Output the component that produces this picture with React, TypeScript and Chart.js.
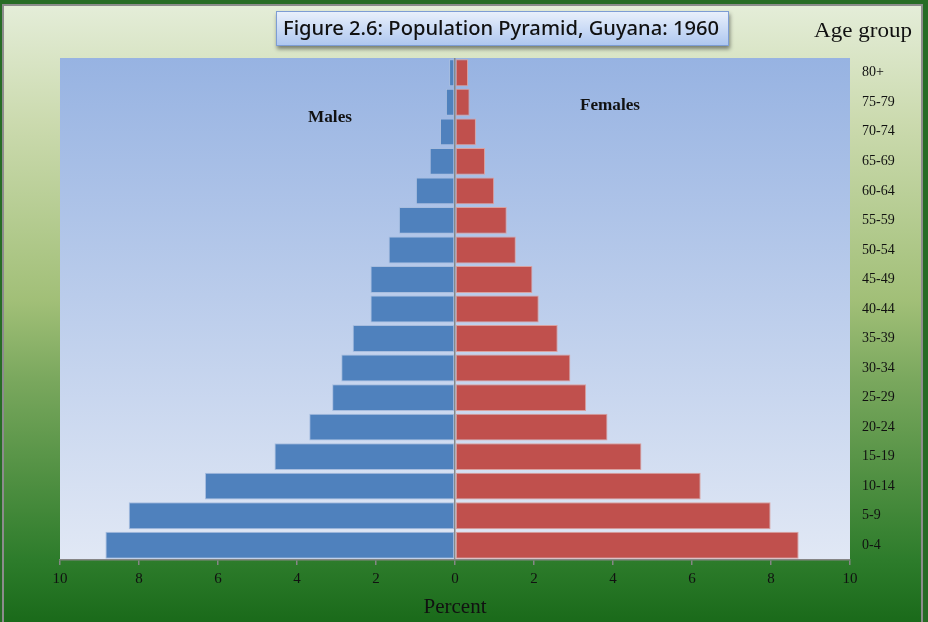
import React, { useEffect, useRef } from 'react';
import { Chart, registerables } from 'chart.js';

Chart.register(...registerables);

const ageGroups = ['0-4', '5-9', '10-14', '15-19', '20-24', '25-29', '30-34', '35-39', '40-44', '45-49', '50-54', '55-59', '60-64', '65-69', '70-74', '75-79', '80+'];
const malesPct = [8.85, 8.26, 6.33, 4.57, 3.69, 3.11, 2.88, 2.59, 2.14, 2.14, 1.68, 1.42, 0.99, 0.64, 0.38, 0.23, 0.15];
const femalesPct = [8.7, 7.99, 6.22, 4.72, 3.86, 3.32, 2.92, 2.6, 2.12, 1.96, 1.54, 1.31, 0.99, 0.76, 0.53, 0.37, 0.33];
const titleText = 'Figure 2.6: Population Pyramid, Guyana: 1960';
const xAxisTitle = 'Percent';
const yAxisTitle = 'Age group';
const maleLabel = 'Males';
const femaleLabel = 'Females';

function drawScaledText(ctx: CanvasRenderingContext2D, text: string, cx: number, cy: number, font: string, targetW: number, color: string) {
  ctx.save();
  ctx.font = font;
  ctx.fillStyle = color;
  ctx.textAlign = 'center';
  ctx.textBaseline = 'middle';
  const w = ctx.measureText(text).width;
  const sx = targetW / w;
  ctx.translate(cx, cy);
  ctx.scale(sx, 1);
  ctx.fillText(text, 0, 0);
  ctx.restore();
}

const backgroundPlugin = {
  id: 'bgPlugin',
  beforeDraw(chart: any) {
    const { ctx, chartArea: ca, width, height } = chart;
    ctx.save();
    ctx.fillStyle = '#276c25';
    ctx.fillRect(0, 0, width, height);
    const g = ctx.createLinearGradient(0, 6, 0, height);
    g.addColorStop(0, '#e4edd8');
    g.addColorStop(0.19, '#cbdaae');
    g.addColorStop(0.48, '#a1bf77');
    g.addColorStop(0.61, '#79a75d');
    g.addColorStop(0.9, '#2d7c2b');
    g.addColorStop(1, '#1a6a1a');
    ctx.fillStyle = g;
    ctx.fillRect(4, 6, 918, height - 6);
    ctx.strokeStyle = '#8c8c8c';
    ctx.lineWidth = 2;
    ctx.beginPath();
    ctx.moveTo(3, height);
    ctx.lineTo(3, 5);
    ctx.lineTo(922, 5);
    ctx.lineTo(922, height);
    ctx.stroke();
    const pg = ctx.createLinearGradient(0, ca.top, 0, ca.bottom);
    pg.addColorStop(0, '#97b3e2');
    pg.addColorStop(1, '#e1e8f5');
    ctx.fillStyle = pg;
    ctx.fillRect(ca.left, ca.top, ca.right - ca.left, ca.bottom - ca.top);
    ctx.restore();
  },
  afterDraw(chart: any) {
    const { ctx } = chart;
    ctx.save();
    const bx = 276, by = 11, bw = 453, bh = 35;
    ctx.shadowColor = 'rgba(0,0,0,0.45)';
    ctx.shadowBlur = 4;
    ctx.shadowOffsetX = 1;
    ctx.shadowOffsetY = 3;
    const tg = ctx.createLinearGradient(0, by, 0, by + bh);
    tg.addColorStop(0, '#eaf1fc');
    tg.addColorStop(1, '#adc6ef');
    ctx.fillStyle = tg;
    ctx.fillRect(bx, by, bw, bh);
    ctx.shadowColor = 'transparent';
    ctx.strokeStyle = '#7d9dd4';
    ctx.lineWidth = 1;
    ctx.strokeRect(bx + 0.5, by + 0.5, bw - 1, bh - 1);
    ctx.restore();
    drawScaledText(ctx, titleText, 501, 29, '500 20px "Noto Sans", sans-serif', 436, '#111');
    drawScaledText(ctx, yAxisTitle, 863, 32, '20px "Liberation Serif", serif', 98, '#111');
    drawScaledText(ctx, maleLabel, 330, 118, 'bold 16px "Liberation Serif", serif', 44, '#111');
    drawScaledText(ctx, femaleLabel, 610, 106, 'bold 16px "Liberation Serif", serif', 60, '#111');
  },
};

export default function App() {
  const ref = useRef<HTMLCanvasElement | null>(null);
  useEffect(() => {
    if (!ref.current) return;
    const chart = new Chart(ref.current, {
      type: 'bar',
      data: {
        labels: ageGroups,
        datasets: [
          {
            label: maleLabel,
            data: malesPct.map((v) => -v),
            backgroundColor: '#4f81bd',
            borderColor: '#a7bddf',
            borderWidth: 1,
            borderSkipped: false,
            barPercentage: 0.91,
            categoryPercentage: 1,
          },
          {
            label: femaleLabel,
            data: femalesPct,
            backgroundColor: '#c0504d',
            borderColor: '#d9a1a0',
            borderWidth: 1,
            borderSkipped: false,
            barPercentage: 0.91,
            categoryPercentage: 1,
          },
        ],
      },
      options: {
        indexAxis: 'y',
        animation: false,
        responsive: true,
        maintainAspectRatio: false,
        layout: { padding: { left: 60, top: 58, right: 0, bottom: 0 } },
        plugins: {
          legend: { display: false },
          title: { display: false },
          tooltip: { enabled: false },
        },
        scales: {
          x: {
            type: 'linear',
            min: -10,
            max: 10,
            stacked: true,
            z: 1,
            border: { display: true, color: '#868686', width: 1.5 },
            grid: {
              drawOnChartArea: true,
              color: (c: any) => (c.tick && c.tick.value === 0 ? '#868686' : 'rgba(0,0,0,0)'),
              lineWidth: 1.5,
              drawTicks: true,
              tickLength: 5,
              tickColor: '#868686',
            },
            ticks: {
              stepSize: 2,
              padding: 5,
              color: '#111',
              font: { family: '"Liberation Serif", serif', size: 15 },
              callback: (v: any) => String(Math.abs(Number(v))),
            },
            title: {
              display: true,
              text: xAxisTitle,
              color: '#111',
              font: { family: '"Liberation Serif", serif', size: 21 },
              padding: { top: 0, bottom: 2 },
            },
            afterFit: (s: any) => {
              s.height = 62;
            },
          },
          y: {
            type: 'category',
            position: 'right',
            reverse: true,
            stacked: true,
            border: { display: false },
            grid: { display: false, drawTicks: false },
            ticks: {
              padding: 12,
              color: '#111',
              font: { family: '"Liberation Serif", serif', size: 14 },
            },
            afterFit: (s: any) => {
              s.width = 78;
            },
          },
        },
      },
      plugins: [backgroundPlugin],
    } as any);
    return () => chart.destroy();
  }, []);
  return (
    <div style={{ position: 'fixed', left: 0, top: 0, width: 928, height: 622 }}>
      <canvas ref={ref} />
    </div>
  );
}
